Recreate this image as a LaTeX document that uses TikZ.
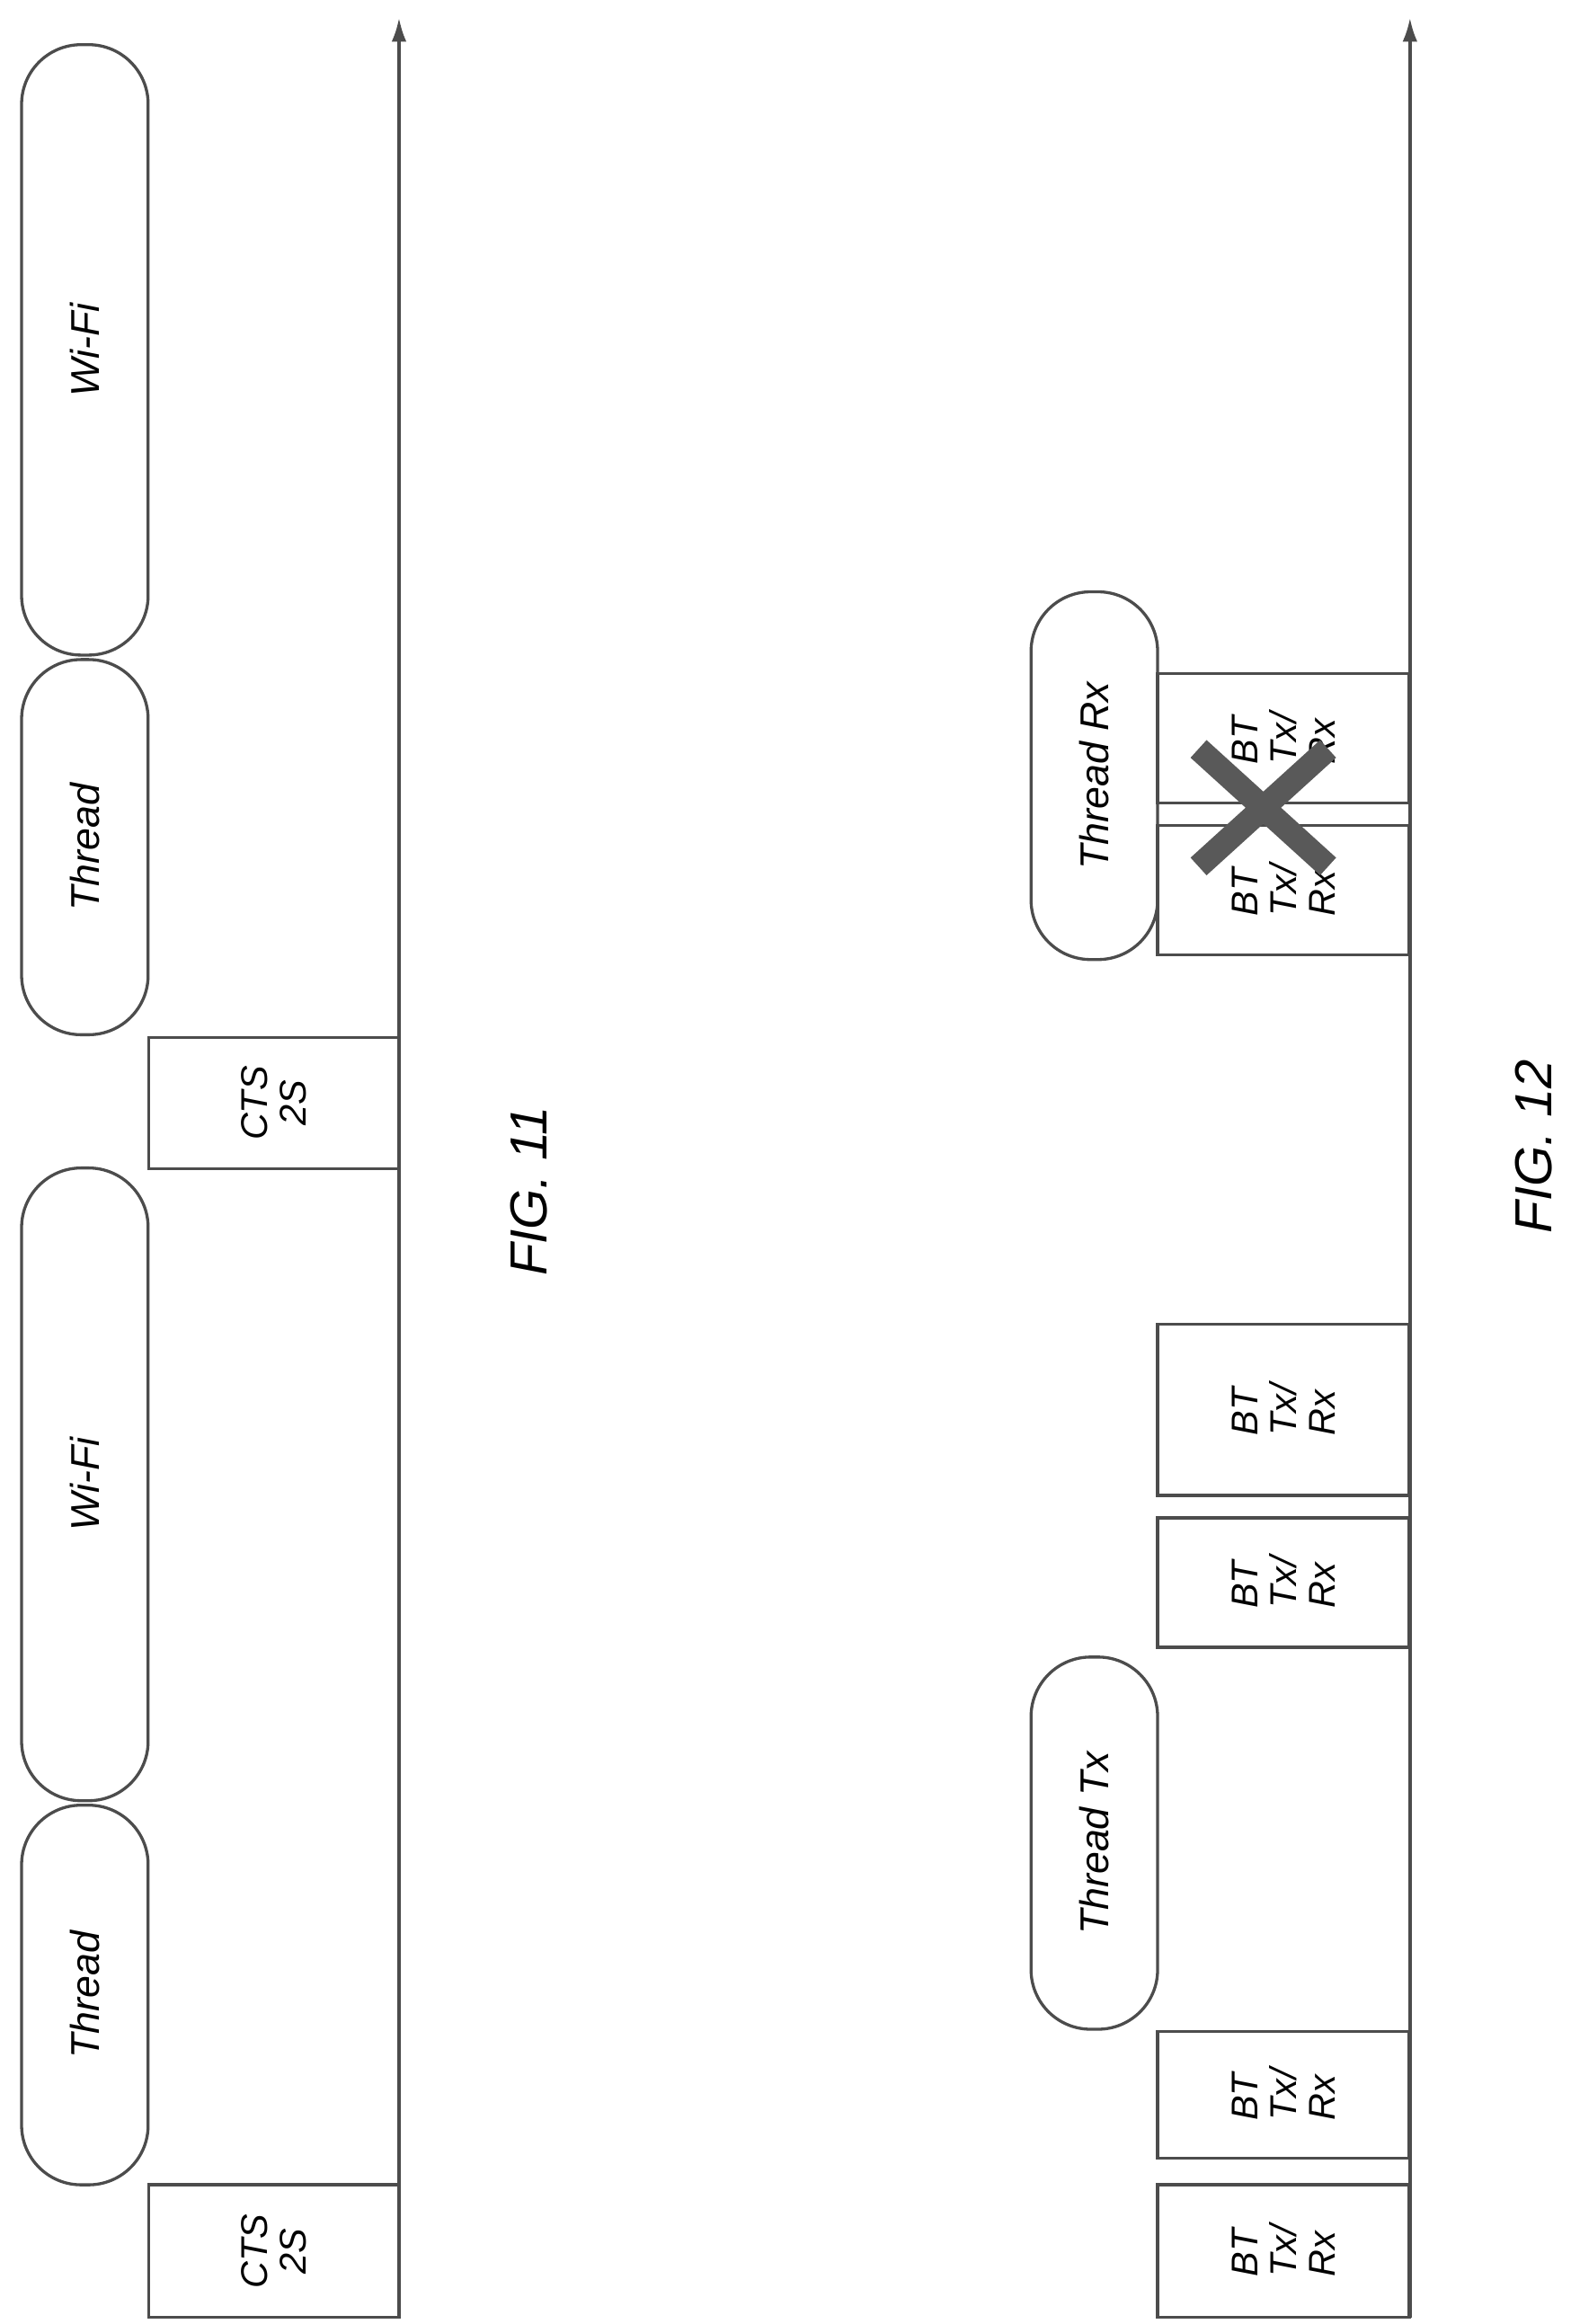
\documentclass[tikz,border=0pt]{standalone}
\usepackage{fontspec}
\setmainfont{Liberation Sans}
\usetikzlibrary{arrows.meta}
\begin{document}
\begin{tikzpicture}[x=1pt,y=1pt,
  ln/.style={draw=black!70,line width=2pt},
  pill/.style={ln,rounded corners=40pt,rotate=90,inner sep=0pt,font=\fontsize{27}{29}\selectfont\itshape},
  boxn/.style={ln,rectangle,rotate=90,inner sep=0pt,align=left,font=\fontsize{25}{26}\selectfont\itshape},
  fig/.style={rotate=90,font=\fontsize{35}{37}\selectfont\itshape}]
\useasboundingbox (0,0) rectangle (1055,-1561);
% FIG 11
\draw[ln,-{Latex[length=16pt,width=10pt]}] (268,-1557) coordinate (a1s) -- (268,-12) coordinate (a1e);
\node[pill,minimum width=410pt,minimum height=85pt] (w1) at (57,-235) {Wi-Fi};
\node[pill,minimum width=252pt,minimum height=85pt] (t1) at (57,-569) {Thread};
\node[pill,minimum width=425pt,minimum height=85pt] (w2) at (57,-997) {Wi-Fi};
\node[pill,minimum width=255pt,minimum height=85pt] (t2) at (57,-1340) {Thread};
\node[boxn,align=center,minimum width=88pt,minimum height=168pt] (c1) at (184,-741) {CTS\\2S};
\node[boxn,align=center,minimum width=89pt,minimum height=168pt] (c2) at (184,-1512) {CTS\\2S};
\node[fig] (f11) at (355,-800) {FIG. 11};
% FIG 12
\draw[ln,-{Latex[length=16pt,width=10pt]}] (947,-1557) coordinate (a2s) -- (947,-12) coordinate (a2e);
\node[pill,minimum width=247pt,minimum height=85pt] (rx) at (735,-521) {Thread Rx};
\node[pill,minimum width=250pt,minimum height=85pt] (tx) at (735,-1238) {Thread Tx};
\node[boxn,minimum width=87pt,minimum height=169pt] (b1) at (862,-496) {BT\\Tx/\\Rx};
\node[boxn,minimum width=87pt,minimum height=169pt] (b2) at (862,-598) {BT\\Tx/\\Rx};
\node[boxn,minimum width=115pt,minimum height=169pt] (b3) at (862,-947) {BT\\Tx/\\Rx};
\node[boxn,minimum width=87pt,minimum height=169pt] (b4) at (862,-1063) {BT\\Tx/\\Rx};
\node[boxn,minimum width=85pt,minimum height=169pt] (b5) at (862,-1407) {BT\\Tx/\\Rx};
\node[boxn,minimum width=89pt,minimum height=169pt] (b6) at (862,-1512) {BT\\Tx/\\Rx};
\draw[draw=black!65,line width=16pt] (805,-503) coordinate (x1) -- (892,-582) coordinate (x2);
\draw[draw=black!65,line width=16pt] (805,-582) coordinate (x3) -- (892,-503) coordinate (x4);
\node[fig] (f12) at (1030,-770) {FIG. 12};
\end{tikzpicture}
\end{document}
